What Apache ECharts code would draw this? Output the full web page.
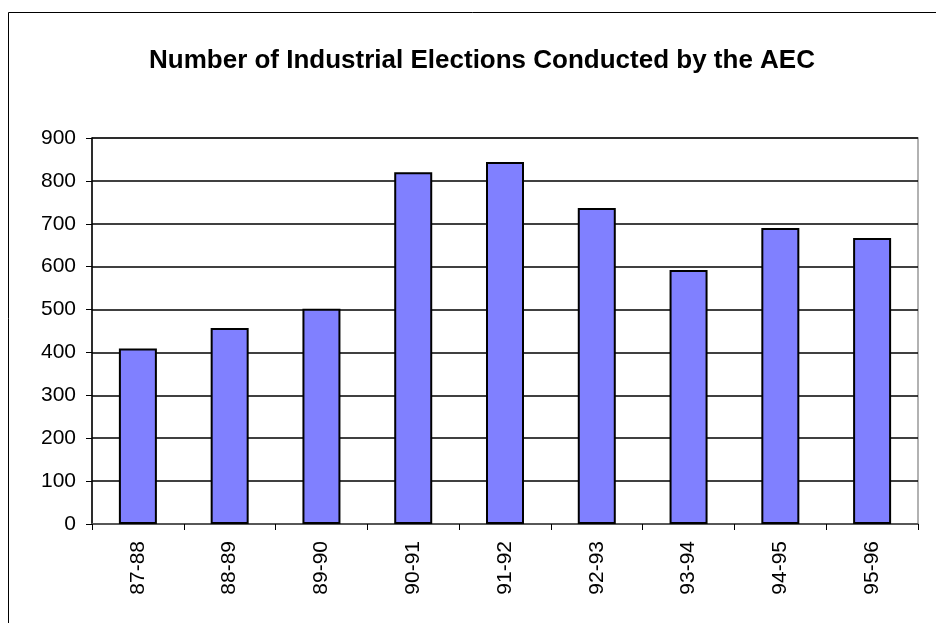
<!DOCTYPE html>
<html>
<head>
<meta charset="utf-8">
<script src="https://cdn.jsdelivr.net/npm/echarts@6/dist/echarts.min.js"></script>
<style>html,body{margin:0;padding:0;background:#fff;}#c{width:936px;height:623px;}</style>
</head>
<body>
<div id="c"></div>
<script>
var categories = ['87-88','88-89','89-90','90-91','91-92','92-93','93-94','94-95','95-96'];
var elections = [409, 457, 502, 820, 844, 737, 592, 690, 667];
var yTicks = [0, 100, 200, 300, 400, 500, 600, 700, 800, 900];
var titleText = 'Number of Industrial Elections Conducted by the AEC';

var chart = echarts.init(document.getElementById('c'), null, {renderer: 'canvas'});
var FONT = '"Liberation Sans", Arial, sans-serif';
chart.setOption({
  animation: false,
  backgroundColor: '#fff',
  title: {
    text: titleText,
    left: 477, top: 43, textAlign: 'center',
    textStyle: {fontFamily: FONT, fontWeight: 'bold', fontSize: 26, color: '#000'}
  },
  graphic: [{
    type: 'rect', left: 6, top: 10, silent: true,
    shape: {width: 940, height: 640},
    style: {fill: null, stroke: '#000', lineWidth: 1}
  }],
  grid: {left: 92, right: 18, top: 138, bottom: 99, show: true, borderColor: '#999', borderWidth: 1.5, backgroundColor: 'transparent'},
  xAxis: {
    type: 'category', data: categories,
    axisLine: {lineStyle: {color: '#666', width: 1.5}},
    axisTick: {show: true, length: 6, lineStyle: {color: '#000'}},
    axisLabel: {rotate: 90, margin: 17, fontFamily: FONT, fontSize: 21, color: '#000'}
  },
  yAxis: {
    type: 'value', min: yTicks[0], max: yTicks[yTicks.length-1], interval: 100,
    axisLine: {show: true, lineStyle: {color: '#000', width: 1.5}},
    axisTick: {show: true, length: 6, lineStyle: {color: '#000'}},
    axisLabel: {margin: 16, fontFamily: FONT, fontSize: 21, color: '#000'},
    splitLine: {show: true, lineStyle: {color: '#000', width: 1.6}}
  },
  series: [{
    type: 'bar', data: elections, barWidth: 38,
    itemStyle: {color: '#8080FF', borderColor: '#000', borderWidth: 2}
  }]
});
</script>
</body>
</html>
